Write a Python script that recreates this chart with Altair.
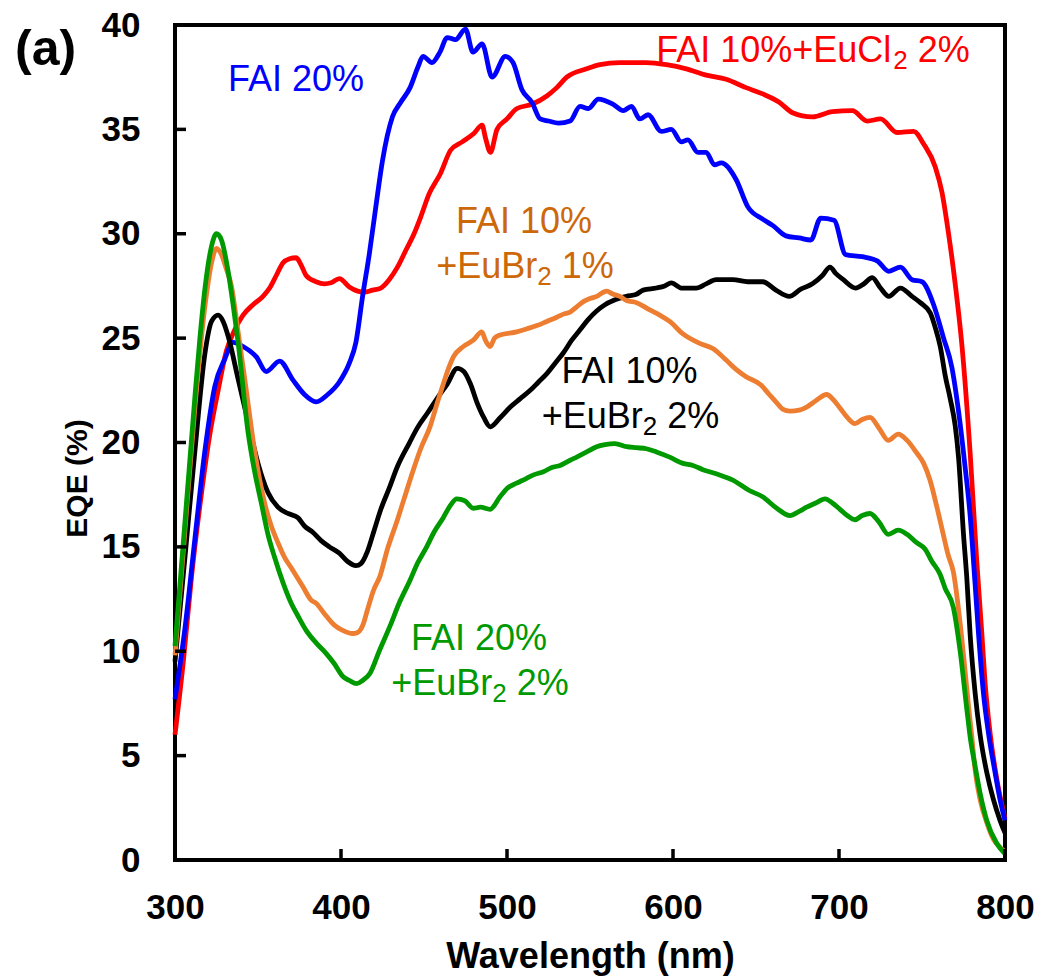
import altair as alt
import pandas as pd

FONT = "Liberation Sans"

# ---- EQE spectra (wavelength in nm, EQE in %) ----
wl_blue = [300, 306, 312, 318, 324, 330, 335, 341, 349, 355, 363, 371, 378, 385, 392, 399, 405, 409,
           413, 417, 421, 425, 431, 436, 441.6, 446.4, 449.4, 454.8, 459.6, 464, 469, 475, 479.5, 485,
           491, 499, 503.6, 509, 515, 520, 525, 531, 538, 544, 549, 555, 564, 570, 575, 580, 585, 593,
           599, 605, 609, 615, 620, 625, 629, 638, 645, 654, 660, 668, 676, 683, 689, 697, 704, 714,
           723, 730, 737, 744, 750, 757, 763, 768, 772, 776, 779, 782, 784, 787, 790, 794, 797, 800]
eqe_blue = [7.7, 11.1, 15.4, 19.6, 22.7, 24.0, 24.8, 24.6, 24.1, 23.4, 23.9, 23.0, 22.3, 21.95, 22.3,
            22.9, 23.8, 24.8, 27.0, 29.0, 31.3, 33.5, 35.6, 36.3, 37.0, 38.0, 38.5, 38.2, 38.7, 39.4,
            39.3, 39.8, 38.7, 39.1, 37.5, 38.5, 38.2, 36.9, 36.3, 35.5, 35.4, 35.3, 35.4, 36.1, 36.0,
            36.45, 36.2, 35.9, 36.1, 35.5, 35.7, 34.9, 35.0, 34.4, 34.5, 33.9, 33.9, 33.3, 33.4, 32.6,
            31.3, 30.7, 30.4, 29.9, 29.8, 29.7, 30.75, 30.65, 29.0, 28.9, 28.7, 28.2, 28.4, 27.8, 27.7,
            26.6, 25.0, 23.6, 21.5, 18.8, 16.5, 13.2, 10.9, 8.0, 6.1, 4.2, 2.9, 1.9]

wl_red = [300, 305, 310, 316, 321, 326, 331, 336, 341, 347, 353, 357, 361, 365, 369, 373, 376, 379,
          385, 390, 394, 399, 405, 410, 414, 419, 424, 429, 434, 439, 444, 448, 453, 460, 466, 473, 480,
          485, 487, 490, 494, 500, 506, 515, 524, 530, 536, 548, 556, 568, 584, 596, 608, 620, 632, 644,
          654, 664, 672, 684, 696, 708, 717, 725, 735, 745, 751, 758, 762, 766, 770, 774, 779, 783, 786,
          788, 791, 795, 800]
eqe_red = [6.0, 9.5, 13.6, 17.6, 20.4, 22.5, 24.4, 25.4, 26.1, 26.6, 27.0, 27.4, 28.0, 28.6, 28.8,
           28.85, 28.5, 28.0, 27.7, 27.6, 27.65, 27.85, 27.45, 27.25, 27.2, 27.3, 27.4, 27.8, 28.4, 29.2,
           30.0, 30.8, 31.9, 32.9, 34.0, 34.4, 34.8, 35.2, 34.6, 33.9, 35.0, 35.5, 36.0, 36.2, 36.6, 37.0,
           37.5, 37.9, 38.1, 38.2, 38.2, 38.1, 37.9, 37.6, 37.4, 37.0, 36.7, 36.3, 35.8, 35.6, 35.85,
           35.9, 35.4, 35.5, 34.85, 34.9, 34.3, 33.2, 32.0, 30.0, 27.6, 24.7, 19.5, 14.3, 10.9, 8.5, 6.1,
           3.9, 2.0]

wl_black = [300, 306, 312, 318, 322, 326, 329, 332, 338, 344, 350, 356, 362, 368, 374, 378, 383, 388,
            393, 399, 404, 409, 412, 416, 420, 424, 429, 434, 441, 446, 452, 460, 464, 470, 474, 478,
            482, 486, 490, 496, 502, 508, 514, 519, 524, 529, 534, 539, 544, 549, 554, 559, 564, 572,
            578, 582, 590, 595, 599, 605, 614, 620, 626, 636, 645, 654, 662, 670, 677, 684, 690, 694.6,
            698, 702.6, 710, 715, 720, 725, 730, 737, 744, 749, 755, 758, 761, 764, 767, 770, 772, 775,
            777, 779, 782, 785, 789, 793, 797, 800]
eqe_black = [9.5, 14.5, 19.6, 24.25, 25.8, 26.1, 25.8, 25.1, 23.05, 21.0, 19.0, 17.6, 16.9, 16.6, 16.4,
             16.0, 15.7, 15.3, 15.0, 14.7, 14.3, 14.1, 14.2, 14.8, 15.8, 16.8, 17.8, 18.85, 19.95, 20.7,
             21.4, 22.35, 22.8, 23.55, 23.4, 22.8, 21.9, 21.2, 20.75, 21.2, 21.7, 22.1, 22.5, 22.9, 23.3,
             23.8, 24.3, 24.9, 25.4, 25.9, 26.3, 26.6, 26.8, 27.0, 27.1, 27.3, 27.4, 27.5, 27.65, 27.4,
             27.4, 27.6, 27.8, 27.8, 27.7, 27.7, 27.3, 27.0, 27.35, 27.6, 28.0, 28.4, 28.1, 27.8, 27.4,
             27.6, 27.9, 27.4, 27.0, 27.4, 27.0, 26.7, 26.2, 25.5, 24.6, 23.2, 22.1, 20.8, 19.3, 15.6,
             13.5, 10.8, 8.0, 6.0, 4.2, 2.9, 1.9, 1.3]

wl_orange = [300, 306, 312, 318, 322, 325, 328, 331, 334, 338, 342, 348, 354, 358, 362, 366, 370, 377,
             382, 385, 390, 396, 401, 407, 410, 413.4, 416, 419.5, 423.5, 428, 433.6, 438, 443.6, 448,
             453.6, 458, 461.6, 465, 467.7, 473.7, 479.7, 484.8, 487, 489.8, 492.5, 495.8, 505.8, 512,
             518, 524, 530, 534, 538, 542, 546, 550, 554, 558, 560, 564, 568, 572, 578, 586, 592, 598,
             606, 616, 624, 632, 638, 644, 653, 658, 662.5, 666, 670.5, 676, 680.5, 686, 692.6, 696,
             700.6, 705, 709.6, 714, 718.7, 724, 729.7, 735.7, 741, 746.8, 751, 754.8, 759, 762.8,
             765.8, 768.9, 772.9, 775.9, 778, 779.9, 782, 785, 789, 793, 797, 800]
eqe_orange = [9.8, 15.8, 21.7, 26.5, 28.6, 29.3, 29.0, 28.3, 27.5, 25.3, 23.05, 19.6, 17.1, 16.0, 15.2,
              14.5, 14.0, 13.1, 12.45, 12.3, 11.8, 11.25, 11.0, 10.85, 10.9, 11.3, 12.0, 12.9, 13.6,
              14.9, 16.2, 17.3, 18.7, 19.7, 20.75, 21.9, 22.8, 23.6, 24.1, 24.6, 24.9, 25.3, 24.9, 24.6,
              25.0, 25.15, 25.3, 25.45, 25.6, 25.8, 26.0, 26.15, 26.25, 26.5, 26.75, 26.9, 27.0, 27.2,
              27.25, 27.1, 27.0, 26.8, 26.7, 26.35, 26.1, 25.8, 25.2, 24.75, 24.5, 23.95, 23.5, 23.15,
              22.75, 22.3, 21.9, 21.6, 21.5, 21.55, 21.7, 22.0, 22.3, 22.1, 21.65, 21.2, 20.9, 21.1,
              21.2, 20.7, 20.1, 20.4, 20.1, 19.5, 19.0, 18.2, 16.9, 15.6, 14.6, 13.8, 11.4, 9.1, 7.4,
              6.0, 4.3, 2.9, 1.8, 1.0, 0.6, 0.4]

wl_green = [300, 303, 306, 309, 312, 315, 318, 322, 325, 328, 332, 335, 338, 344, 348, 352, 356, 360,
            365, 370, 374, 379, 385, 391, 396, 401, 405, 409.5, 413, 417.5, 423, 429.5, 435, 441.6, 446,
            451.6, 456, 461.6, 466, 469.7, 474.7, 479.7, 484, 489.8, 495.8, 500, 505.8, 511, 516,
            521.9, 527, 532, 538, 542, 548, 554, 559, 565, 572, 578, 584, 590, 598, 606, 612, 618, 626,
            636, 646, 654, 662.5, 670.5, 676, 680.5, 686, 691.6, 696, 700.6, 705, 709.6, 714, 718.7,
            724, 729.7, 735.7, 741, 746.8, 751.8, 756, 760.8, 764, 768.9, 772.9, 776.9, 779, 782, 785,
            789, 795, 800]
eqe_green = [10.25, 13.2, 16.2, 19.2, 22.2, 25.0, 27.35, 29.4, 30.0, 29.7, 28.2, 26.6, 24.8, 20.5, 18.6,
             17.1, 15.6, 14.5, 13.3, 12.3, 11.7, 11.0, 10.4, 9.9, 9.4, 8.8, 8.6, 8.45, 8.6, 8.95, 10.0,
             11.2, 12.3, 13.4, 14.2, 15.0, 15.7, 16.4, 17.0, 17.3, 17.2, 16.85, 16.9, 16.8, 17.4, 17.8,
             18.05, 18.25, 18.45, 18.6, 18.8, 18.9, 19.15, 19.3, 19.55, 19.8, 19.9, 19.95, 19.8, 19.75,
             19.7, 19.55, 19.3, 19.0, 18.9, 18.7, 18.5, 18.2, 17.7, 17.4, 16.85, 16.5, 16.7, 16.9, 17.1,
             17.3, 17.1, 16.8, 16.5, 16.3, 16.5, 16.6, 16.2, 15.6, 15.8, 15.6, 15.2, 14.9, 14.3, 13.7,
             13.0, 12.1, 10.06, 7.3, 5.9, 4.5, 3.2, 1.9, 0.8, 0.3]

# drawing order: first entry is drawn underneath
series = [
    ("FAI 10%+EuCl2 2%", wl_red, eqe_red, "#FF0000"),
    ("FAI 20%", wl_blue, eqe_blue, "#0000FF"),
    ("FAI 10%+EuBr2 2%", wl_black, eqe_black, "#000000"),
    ("FAI 10%+EuBr2 1%", wl_orange, eqe_orange, "#ED7D31"),
    ("FAI 20%+EuBr2 2%", wl_green, eqe_green, "#009900"),
]

x_ticks = [300, 400, 500, 600, 700, 800]
y_ticks = [0, 5, 10, 15, 20, 25, 30, 35, 40]

# ---- in-plot labels: (centre wavelength, baseline EQE, colour, [(text, is_subscript)]) ----
ORANGE_TXT = "#CD680A"
labels = [
    (373.5, 36.84, "#0000FF", [("FAI 20%", False)]),
    (684.3, 38.23, "#FF0000", [("FAI 10%+EuCl", False), ("2", True), (" 2%", False)]),
    (510.8, 30.02, ORANGE_TXT, [("FAI 10%", False)]),
    (510.8, 27.86, ORANGE_TXT, [("+EuBr", False), ("2", True), (" 1%", False)]),
    (574.4, 22.85, "#000000", [("FAI 10%", False)]),
    (574.4, 20.69, "#000000", [("+EuBr", False), ("2", True), (" 2%", False)]),
    (483.7, 10.06, "#009900", [("FAI 20%", False)]),
    (483.7, 7.90, "#009900", [("+EuBr", False), ("2", True), (" 2%", False)]),
]
panel_tag = "(a)"

W, H = 830, 835
X_DOM, Y_DOM = [300, 800], [0, 40]
PX_PER_NM = W / (X_DOM[1] - X_DOM[0])
MAIN_SIZE, SUB_SIZE = 36, 26

# Arial / Liberation Sans advance widths (units per 1000 em)
ADV = {" ": 278, "%": 889, "+": 584, "0": 556, "1": 556, "2": 556, "A": 667, "B": 667,
       "C": 722, "E": 667, "F": 611, "I": 278, "l": 222, "r": 333, "u": 556}


def width(s, size):
    return sum(ADV[c] for c in s) / 1000 * size


rows = []
for cx, by, col, segs in labels:
    total = sum(width(t, SUB_SIZE if sub else MAIN_SIZE) for t, sub in segs)
    off = -total / 2
    for t, sub in segs:
        size = SUB_SIZE if sub else MAIN_SIZE
        lead = len(t) - len(t.lstrip(" "))
        rows.append({"x": cx + (off + width(" " * lead, size)) / PX_PER_NM, "y": by,
                     "t": t.strip(" "), "c": col, "sub": sub})
        off += width(t, size)
lab_df = pd.DataFrame(rows)

xs = alt.Scale(domain=X_DOM, nice=False, zero=False)
ys = alt.Scale(domain=Y_DOM, nice=False, zero=False)

x_axis = alt.Axis(values=x_ticks, format="d", title="Wavelength (nm)", grid=False, domain=False,
                  ticks=False, tickSize=0, labelPadding=30, labelFontSize=35, labelFontWeight="bold",
                  labelFont=FONT, labelColor="black", labelFlush=False, labelOverlap=False,
                  titleFont=FONT, titleFontSize=36, titleFontWeight="bold", titleColor="black",
                  titleBaseline="alphabetic", titleY=107)
y_axis = alt.Axis(values=y_ticks, format="d", title="EQE (%)", grid=False, domain=False,
                  ticks=False, tickSize=0, labelPadding=35, labelFontSize=35, labelFontWeight="bold",
                  labelFont=FONT, labelColor="black", labelFlush=False, labelOverlap=False,
                  titleFont=FONT, titleFontSize=30, titleFontWeight="bold", titleColor="black",
                  titleBaseline="alphabetic", titleAngle=270, titleX=-89, titleY=453)


def X(field):
    return alt.X(field, scale=xs, axis=x_axis)


def Y(field):
    return alt.Y(field, scale=ys, axis=y_axis)


layers = []
for name, wl, eq, col in series:
    df = pd.DataFrame({"wl": wl, "eqe": eq})
    layers.append(alt.Chart(df).mark_line(color=col, strokeWidth=4.8, interpolate="monotone")
                  .encode(x=X("wl:Q"), y=Y("eqe:Q")))

# inward-pointing tick marks
ytk = alt.Chart(pd.DataFrame({"v": y_ticks})).mark_rule(color="black", strokeWidth=3.5).encode(
    y=Y("v:Q"), x=alt.value(0), x2=alt.value(11))
xtk = alt.Chart(pd.DataFrame({"v": x_ticks})).mark_rule(color="black", strokeWidth=3.5).encode(
    x=X("v:Q"), y=alt.value(H), y2=alt.value(H - 11))

main_txt = alt.Chart(lab_df[~lab_df["sub"]]).mark_text(
    font=FONT, fontSize=MAIN_SIZE, align="left", baseline="alphabetic").encode(
    x=X("x:Q"), y=Y("y:Q"), text="t:N", color=alt.Color("c:N", scale=None))
sub_txt = alt.Chart(lab_df[lab_df["sub"]]).mark_text(
    font=FONT, fontSize=SUB_SIZE, align="left", baseline="alphabetic", dy=7).encode(
    x=X("x:Q"), y=Y("y:Q"), text="t:N", color=alt.Color("c:N", scale=None))

# panel tag in the top-left corner of the figure
tag = alt.Chart(pd.DataFrame({"t": [panel_tag]})).mark_text(
    font=FONT, fontSize=50, fontWeight="bold", align="left", baseline="alphabetic",
    color="black").encode(text="t:N", x=alt.value(-160), y=alt.value(40))

chart = alt.layer(*layers, ytk, xtk, main_txt, sub_txt, tag).properties(
    width=W, height=H,
    autosize=alt.AutoSizeParams(type="none"),
    padding={"left": 175, "top": 25, "right": 38, "bottom": 117},
    background="white",
).configure_view(stroke="black", strokeWidth=4)

chart.save("out.html", embed_options={"renderer": "svg", "actions": False})
